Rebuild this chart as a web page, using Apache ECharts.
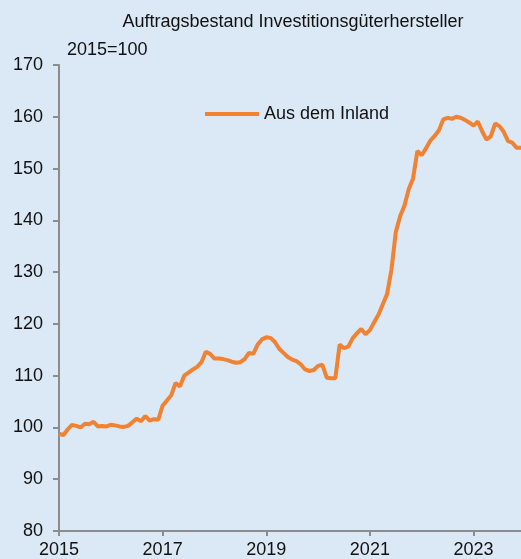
<!DOCTYPE html>
<html>
<head>
<meta charset="utf-8">
<script src="https://cdn.jsdelivr.net/npm/echarts@6/dist/echarts.min.js"></script>
<style>
  html, body { margin: 0; padding: 0; background: #dbe8f5; }
  #chart { width: 521px; height: 559px; }
</style>
</head>
<body>
<div id="chart"></div>
<script>
// monthly index, 2015=100, Jan 2015 .. Dec 2023
const startYear = 2015
const endYear = 2023
const values2015 = [98.8, 98.5, 99.6, 100.5, 100.3, 100.0, 100.7, 100.6, 101.1, 100.2, 100.3, 100.2]
const values2016 = [100.5, 100.4, 100.2, 100.1, 100.3, 101.0, 101.7, 101.2, 102.2, 101.3, 101.6, 101.5]
const values2017 = [104.2, 105.2, 106.2, 108.6, 107.9, 110.0, 110.6, 111.2, 111.7, 112.6, 114.6, 114.2]
const values2018 = [113.3, 113.3, 113.2, 113.0, 112.7, 112.5, 112.6, 113.2, 114.4, 114.2, 116.0, 117.0]
const values2019 = [117.4, 117.3, 116.5, 115.2, 114.4, 113.6, 113.1, 112.8, 112.2, 111.2, 110.9, 111.1]
const values2020 = [111.9, 112.1, 109.6, 109.5, 109.5, 116.0, 115.3, 115.6, 117.2, 118.2, 119.0, 118.0]
const values2021 = [118.8, 120.3, 121.8, 123.8, 125.8, 130.5, 137.7, 140.8, 142.8, 146.0, 148.1, 153.4]
const values2022 = [152.6, 153.9, 155.4, 156.3, 157.4, 159.5, 159.8, 159.6, 160.0, 159.8, 159.4, 158.9]
const values2023 = [158.3, 159.1, 157.2, 155.6, 156.2, 158.7, 158.2, 157.1, 155.3, 155.0, 154.0, 154.0]

const seriesName = 'Aus dem Inland'
const titleText = 'Auftragsbestand Investitionsgüterhersteller'
const unitText = '2015=100'

const months = []
for (let y = startYear; y <= endYear; y++) {
  for (let m = 1; m <= 12; m++) months.push(y + '-' + String(m).padStart(2, '0'))
}
const values = [].concat(values2015, values2016, values2017, values2018, values2019,
  values2020, values2021, values2022, values2023)

const font = '"Liberation Sans", Arial, sans-serif'
const axisGrey = '#8c8c8c'

const chart = echarts.init(document.getElementById('chart'))
chart.setOption({
  backgroundColor: '#dbe8f5',
  animation: false,
  textStyle: { fontFamily: font },
  title: [
    {
      text: titleText,
      left: 288,
      top: 8,
      textAlign: 'center',
      textStyle: { color: '#111', fontSize: 18, fontWeight: 'normal', fontFamily: font }
    },
    {
      text: unitText,
      left: 62,
      top: 36,
      textStyle: { color: '#111', fontSize: 18, fontWeight: 'normal', fontFamily: font }
    }
  ],
  legend: {
    left: 200,
    top: 100,
    itemWidth: 54,
    itemHeight: 4,
    itemGap: 5,
    icon: 'rect',
    textStyle: { color: '#111', fontSize: 18, fontFamily: font },
    data: [seriesName]
  },
  grid: { left: 59, right: 0, top: 65, bottom: 28 },
  xAxis: {
    type: 'category',
    data: months,
    boundaryGap: false,
    axisLine: { lineStyle: { color: axisGrey, width: 2 } },
    axisTick: { interval: 23, length: 5, lineStyle: { color: axisGrey, width: 2 } },
    axisLabel: {
      interval: 23,
      margin: 10,
      color: '#111',
      fontSize: 18,
      fontFamily: font,
      formatter: v => v.slice(0, 4)
    },
    splitLine: { show: false }
  },
  yAxis: {
    type: 'value',
    min: 80,
    max: 170,
    interval: 10,
    axisLine: { show: true, lineStyle: { color: axisGrey, width: 2 } },
    axisTick: { show: true, length: 6, lineStyle: { color: axisGrey, width: 2 } },
    axisLabel: { margin: 16, color: '#111', fontSize: 18, fontFamily: font },
    splitLine: { show: false }
  },
  series: [
    {
      name: seriesName,
      type: 'line',
      data: values,
      showSymbol: false,
      symbol: 'none',
      color: '#f08232',
      lineStyle: { color: '#f08232', width: 4 }
    }
  ]
})
</script>
</body>
</html>
